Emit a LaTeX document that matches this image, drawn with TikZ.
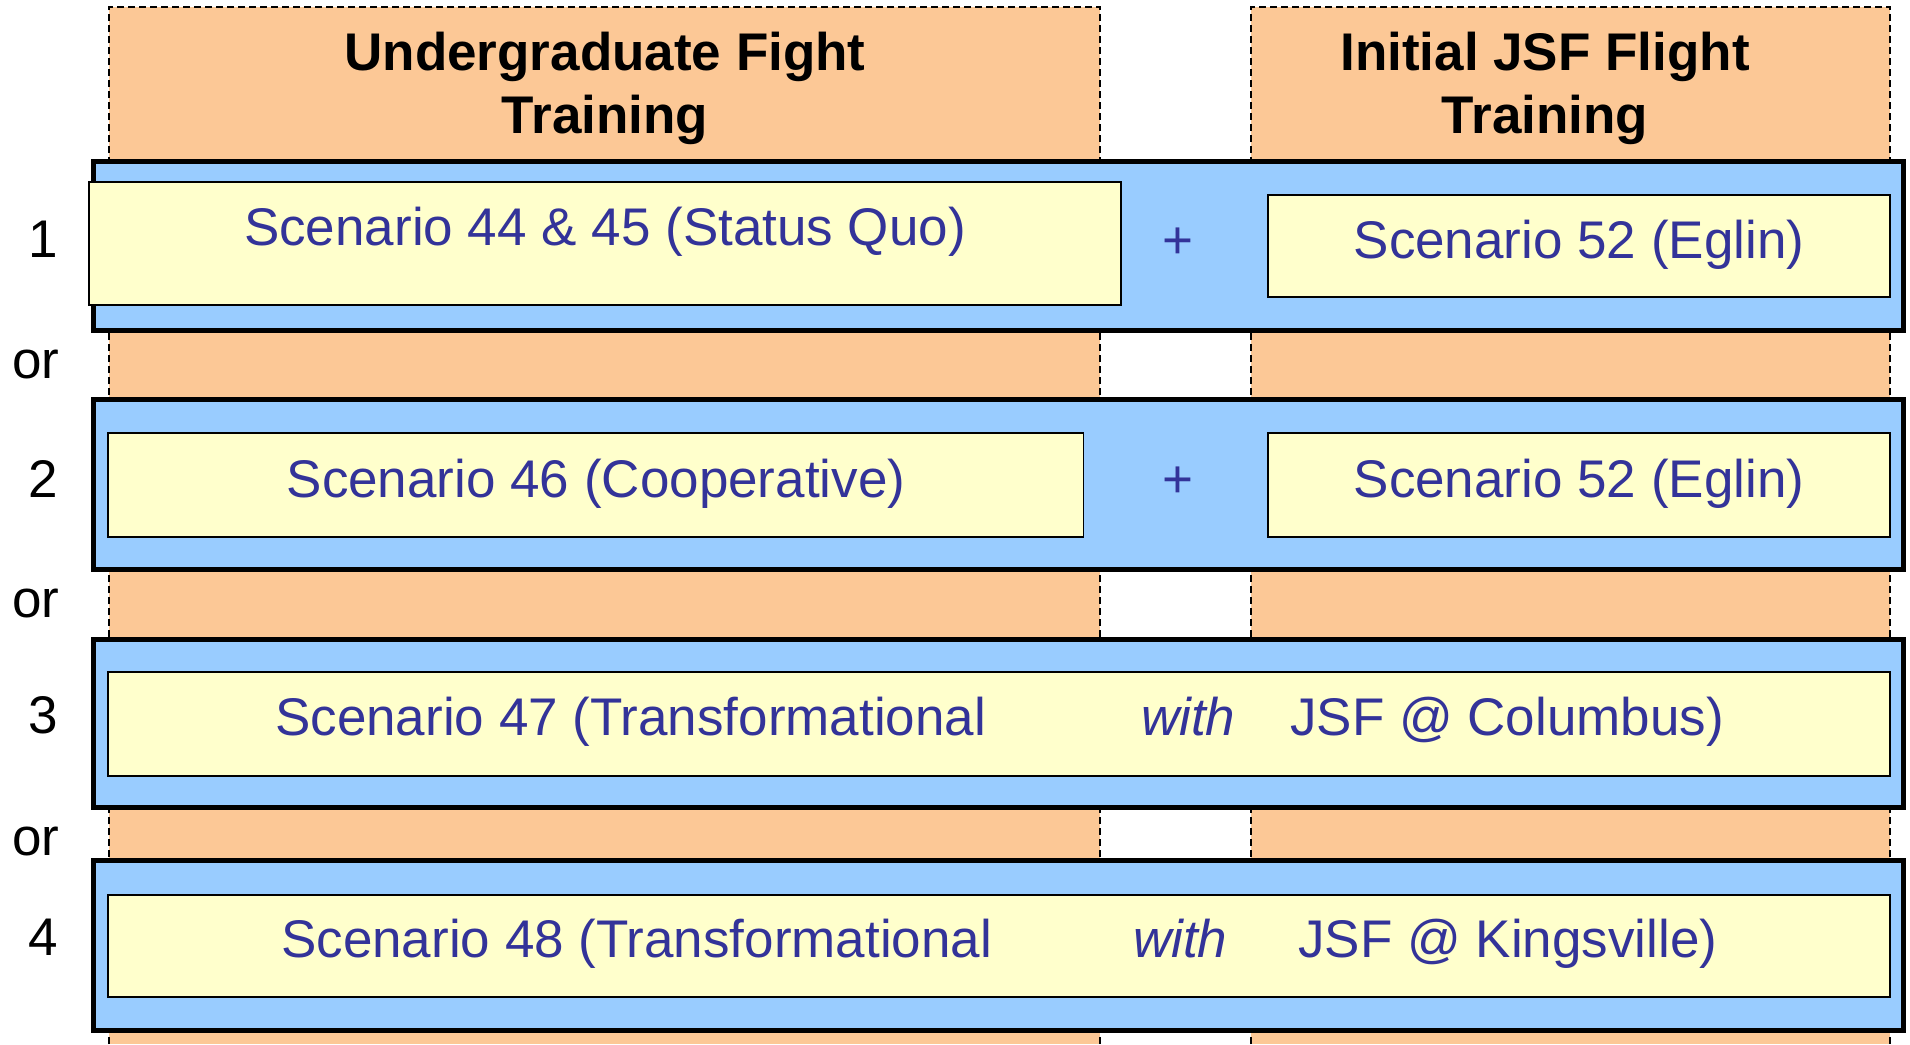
\documentclass[tikz,border=0pt]{standalone}
\usepackage{fontspec}
\setmainfont{Liberation Sans}
\definecolor{colorange}{HTML}{FCC896}
\definecolor{bandblue}{HTML}{99CCFF}
\definecolor{boxyellow}{HTML}{FFFFCC}
\definecolor{txtblue}{HTML}{333399}
\begin{document}
\begin{tikzpicture}[x=1pt,y=-1pt,
  coledge/.style={draw=black, line width=1.5pt, dash pattern=on 7pt off 4pt},
  band/.style={fill=bandblue, draw=black, line width=5pt},
  ybox/.style={fill=boxyellow, draw=black, line width=1.6pt},
  big/.style={font=\fontsize{53}{63}\selectfont, inner sep=0pt},
  txt/.style={big, text=txtblue, anchor=base},
  txtl/.style={big, text=txtblue, anchor=base west},
  head/.style={font=\fontsize{53}{63}\selectfont\bfseries, inner sep=0pt, align=center, anchor=base},
  lab/.style={big, anchor=base},
  orlab/.style={big, anchor=base west}]
\useasboundingbox (0,0) rectangle (1910,1044);
% columns
\fill[colorange] (109,7) rectangle (1100,1044);
\fill[colorange] (1251,7) rectangle (1890,1044);
\draw[coledge] (109,1044) -- (109,7) -- (1100,7) -- (1100,1044);
\draw[coledge] (1251,1044) -- (1251,7) -- (1890,7) -- (1890,1044);
\node[head] (h1) at (605,133) {Undergraduate Fight\\Training};
\node[head] (h2) at (1545,133) {Initial JSF Flight\\Training};
% bands
\draw[band] (93,161.5) rectangle (1903.5,330.5);
\draw[band] (93,399.5) rectangle (1903.5,569.5);
\draw[band] (93,639.5) rectangle (1903.5,807.5);
\draw[band] (93,860.5) rectangle (1903.5,1030.5);
% yellow boxes
\draw[ybox] (89,182) rectangle (1121,305);
\draw[ybox] (1268,195) rectangle (1890,297);
\draw[ybox] (108,433) rectangle (1083.5,537);
\draw[ybox] (1268,433) rectangle (1890,537);
\draw[ybox] (108,672) rectangle (1890,776);
\draw[ybox] (108,895) rectangle (1890,997);
% texts
\node[txt] (s1a) at (605,245) {Scenario 44 \& 45 (Status Quo)};
\node[txt] (p1) at (1178,258) {+};
\node[txt] (s1b) at (1579,258) {Scenario 52 (Eglin)};
\node[txt] (s2a) at (596,497) {Scenario 46 (Cooperative)};
\node[txt] (p2) at (1178,497) {+};
\node[txt] (s2b) at (1579,497) {Scenario 52 (Eglin)};
\node[txtl] (s3a) at (275,735) {Scenario 47 (Transformational};
\node[txtl] (s3b) at (1141,735) {\itshape with};
\node[txtl] (s3c) at (1290,735) {JSF @ Columbus)};
\node[txtl] (s4a) at (281,957) {Scenario 48 (Transformational};
\node[txtl] (s4b) at (1133,957) {\itshape with};
\node[txtl] (s4c) at (1298,957) {JSF @ Kingsville)};
% row labels
\node[lab] (n1) at (43,257) {1};
\node[lab] (n2) at (43,497) {2};
\node[lab] (n3) at (43,733) {3};
\node[lab] (n4) at (43,955) {4};
\node[orlab] (o1) at (12,378) {or};
\node[orlab] (o2) at (12,617) {or};
\node[orlab] (o3) at (12,855) {or};
\end{tikzpicture}
\end{document}
